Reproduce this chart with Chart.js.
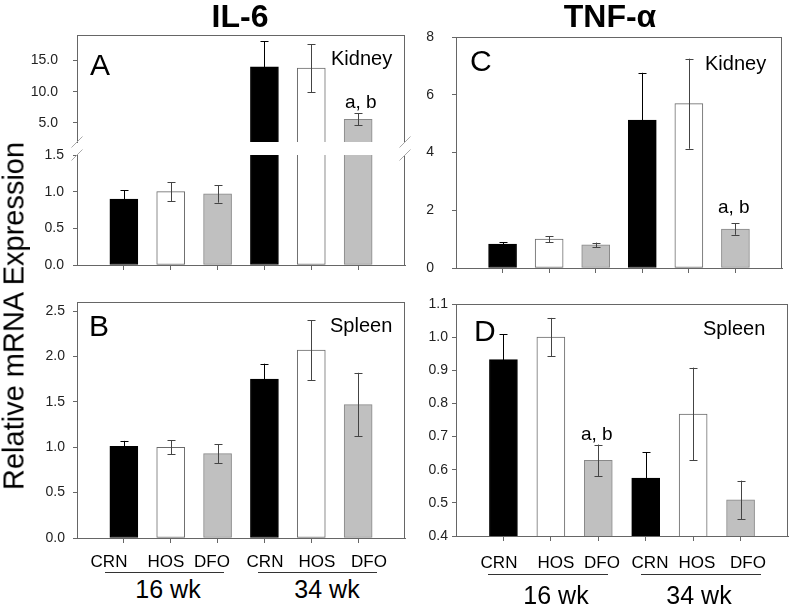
<!DOCTYPE html>
<html>
<head>
<meta charset="utf-8">
<script src="https://cdn.jsdelivr.net/npm/chart.js@4"></script>
<style>
body { margin: 0; background: #fff; }
#wrap { position: relative; width: 791px; height: 609px; overflow: hidden; font-family: 'Liberation Sans', Arial, sans-serif; }
canvas { position: absolute; }
.t { position: absolute; white-space: nowrap; color: #000; line-height: 1; }
.ul { position: absolute; height: 0; border-top: 1.5px solid #333; }
</style>
</head>
<body>
<div id="wrap"></div>
<script>
// groups on the x axis (16 wk then 34 wk)
const groups = ['CRN', 'HOS', 'DFO', 'CRN', 'HOS', 'DFO'];

// IL-6
const il6Kidney = [0.90, 1.00, 0.97, 14.0, 13.8, 5.6];
const il6KidneyErr = [0.12, 0.13, 0.12, 4.1, 3.85, 1.0];
const il6Spleen = [1.01, 1.00, 0.93, 1.75, 2.07, 1.47];
const il6SpleenErr = [0.06, 0.075, 0.105, 0.17, 0.33, 0.35];

// TNF-alpha
const tnfKidney = [0.83, 1.00, 0.80, 5.12, 5.69, 1.35];
const tnfKidneyErr = [0.07, 0.10, 0.08, 1.64, 1.56, 0.20];
const tnfSpleen = [0.932, 1.00, 0.628, 0.575, 0.768, 0.509];
const tnfSpleenErr = [0.077, 0.058, 0.048, 0.077, 0.14, 0.058];

// tick labels
const ticksAUpper = [5, 10, 15];
const ticksALower = [0, 0.5, 1.0, 1.5];
const ticksB = [0, 0.5, 1.0, 1.5, 2.0, 2.5];
const ticksC = [0, 2, 4, 6, 8];
const ticksD = [0.4, 0.5, 0.6, 0.7, 0.8, 0.9, 1.0, 1.1];

const fills = ['#000000', '#ffffff', '#c0c0c0', '#000000', '#ffffff', '#c0c0c0'];
const edges = ['#000000', '#6a6a6a', '#888888', '#000000', '#6a6a6a', '#888888'];
const axisColor = '#666';

Chart.defaults.font.family = "'Liberation Sans', Arial, sans-serif";
Chart.defaults.animation = false;

const wrap = document.getElementById('wrap');

// error bars + frame + axis-break slashes
const extras = {
    id: 'extras',
    afterDatasetsDraw(chart, args, o) {
        const c = chart.ctx, a = chart.chartArea, ys = chart.scales.y;
        const meta = chart.getDatasetMeta(0);
        c.save();
        c.beginPath();
        c.rect(a.left, a.top - 1, a.right - a.left, a.bottom - a.top + 2);
        c.clip();
        c.lineWidth = 1;
        o.err.forEach((e, i) => {
            const el = meta.data[i + 1];
            const v = o.vals[i];
            const x = Math.round(el.x) + 0.5;
            const y1 = ys.getPixelForValue(v + e), y2 = ys.getPixelForValue(v - e);
            c.strokeStyle = fills[i] === '#000000' ? '#000' : '#444';
            c.beginPath();
            c.moveTo(x, y1); c.lineTo(x, y2);
            c.moveTo(x - 4, Math.round(y1) + 0.5); c.lineTo(x + 4, Math.round(y1) + 0.5);
            c.moveTo(x - 4, Math.round(y2) + 0.5); c.lineTo(x + 4, Math.round(y2) + 0.5);
            c.stroke();
        });
        c.restore();

        c.save();
        c.strokeStyle = axisColor;
        c.lineWidth = 1;
        c.beginPath();
        if (o.top) { c.moveTo(a.left, a.top + 0.5); c.lineTo(a.right, a.top + 0.5); }
        c.moveTo(a.right - 0.5, a.top); c.lineTo(a.right - 0.5, a.bottom);
        c.stroke();
        if (o.brk) {
            const y = o.brk === 'bottom' ? a.bottom : a.top;
            c.strokeStyle = '#aaa';
            c.beginPath();
            [a.left, a.right].forEach(x => {
                c.moveTo(x - 5.5, y + 5.5); c.lineTo(x + 5.5, y - 5.5);
            });
            c.stroke();
        }
        c.restore();
    }
};

function panel(p) {
    const padT = 12, padR = 12, padB = 12, yW = 60;
    const cv = document.createElement('canvas');
    const cl = p.left - yW, ct = p.top - padT;
    cv.width = p.right + padR - cl;
    cv.height = p.bottom + padB - ct;
    cv.style.left = cl + 'px';
    cv.style.top = ct + 'px';
    wrap.appendChild(cv);
    const labels = ['', ...groups, ''];
    return new Chart(cv, {
        type: 'bar',
        data: {
            labels: labels,
            datasets: [{
                data: [null, ...p.vals, null],
                backgroundColor: ['#fff', ...fills, '#fff'],
                borderColor: ['#fff', ...edges, '#fff'],
                borderWidth: 1,
                borderSkipped: false,
                barThickness: 28,
                clip: 0
            }]
        },
        options: {
            responsive: false,
            layout: { padding: { left: 0, top: padT, right: padR, bottom: p.xAxis ? 0 : padB } },
            plugins: {
                legend: { display: false },
                tooltip: { enabled: false },
                extras: { vals: p.vals, err: p.err, top: p.frameTop, brk: p.brk }
            },
            scales: {
                x: {
                    display: p.xAxis,
                    offset: false,
                    grid: {
                        offset: false,
                        drawOnChartArea: false,
                        drawTicks: true,
                        tickLength: 5,
                        color: ctx => (ctx.index === 0 || ctx.index === labels.length - 1) ? 'rgba(0,0,0,0)' : axisColor
                    },
                    border: { display: true, color: axisColor },
                    ticks: { display: false, autoSkip: false },
                    afterFit: s => { s.height = p.xAxis ? padB : 0; s.paddingLeft = 0; s.paddingRight = 0; }
                },
                y: {
                    min: p.min,
                    max: p.max,
                    grid: { drawOnChartArea: false, drawTicks: true, tickLength: 4, color: axisColor },
                    border: { display: true, color: axisColor },
                    ticks: {
                        padding: p.pad,
                        color: '#222',
                        font: { size: 14 },
                        callback: v => Number(v).toFixed(p.dec)
                    },
                    afterBuildTicks: s => { s.ticks = p.ticks.map(v => ({ value: v })); },
                    afterFit: s => { s.width = yW; s.paddingTop = 0; s.paddingBottom = 0; }
                }
            }
        },
        plugins: [extras]
    });
}

panel({ left: 77, right: 405, top: 35, bottom: 142, min: 1.95, max: 19.1, ticks: ticksAUpper, dec: 1, pad: 15,
    vals: il6Kidney, err: il6KidneyErr, xAxis: false, frameTop: true, brk: 'bottom' });
panel({ left: 77, right: 405, top: 155, bottom: 265, min: 0, max: 1.5, ticks: ticksALower, dec: 1, pad: 9,
    vals: il6Kidney, err: il6KidneyErr, xAxis: true, frameTop: false, brk: 'top' });
panel({ left: 77, right: 405, top: 302, bottom: 538, min: 0, max: 2.6, ticks: ticksB, dec: 1, pad: 8,
    vals: il6Spleen, err: il6SpleenErr, xAxis: true, frameTop: true });
panel({ left: 456, right: 782, top: 37, bottom: 268, min: 0, max: 8, ticks: ticksC, dec: 0, pad: 18,
    vals: tnfKidney, err: tnfKidneyErr, xAxis: true, frameTop: true });
panel({ left: 456, right: 788, top: 304, bottom: 536, min: 0.4, max: 1.1, ticks: ticksD, dec: 1, pad: 4,
    vals: tnfSpleen, err: tnfSpleenErr, xAxis: true, frameTop: true });

// text helpers: x is left (or centre with align 'c'), b is the baseline
function text(s, x, b, size, align, bold) {
    const d = document.createElement('div');
    d.className = 't';
    d.textContent = s;
    d.style.fontSize = size + 'px';
    if (bold) d.style.fontWeight = 'bold';
    d.style.top = (b - 0.8465 * size) + 'px';
    d.style.left = x + 'px';
    if (align === 'c') d.style.transform = 'translateX(-50%)';
    wrap.appendChild(d);
    return d;
}
function underline(x1, x2, y) {
    const d = document.createElement('div');
    d.className = 'ul';
    d.style.left = x1 + 'px';
    d.style.width = (x2 - x1) + 'px';
    d.style.top = y + 'px';
    wrap.appendChild(d);
}

text('IL-6', 240, 27, 32, 'c', true);
text('TNF-α', 610, 27, 32, 'c', true);

const yt = text('Relative mRNA Expression', 14, 0, 29);
yt.style.top = '316px';
yt.style.transform = 'translate(-50%, -50%) rotate(-90deg)';

text('A', 90, 75, 30);
text('B', 89, 336, 30);
text('C', 470, 71, 30);
text('D', 474, 341, 30);

text('Kidney', 331, 65, 20);
text('Kidney', 705, 70, 20);
text('Spleen', 330, 332, 20);
text('Spleen', 703, 335, 20);
text('a, b', 345, 108, 19);
text('a, b', 718, 213, 19);
text('a, b', 581, 440, 19);

[109, 166, 212, 265, 317, 369].forEach((x, i) => text(groups[i], x, 567, 17, 'c'));
[499, 556, 602, 650, 697, 748].forEach((x, i) => text(groups[i], x, 568, 17, 'c'));
underline(105, 224, 572);
underline(258, 377, 572);
underline(488, 608, 574);
underline(641, 761, 574);
text('16 wk', 168, 598, 25, 'c');
text('34 wk', 327, 598, 25, 'c');
text('16 wk', 556, 604, 25, 'c');
text('34 wk', 699, 604, 25, 'c');
</script>
</body>
</html>
